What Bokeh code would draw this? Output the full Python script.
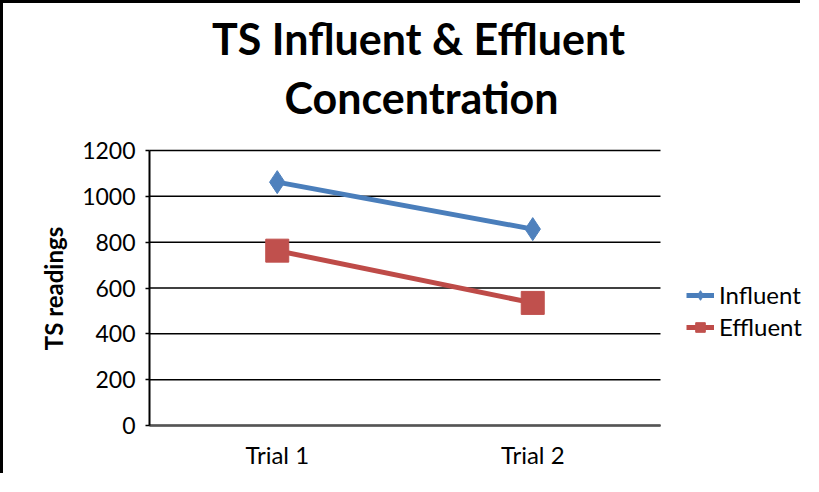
import math
from bokeh.plotting import figure
from bokeh.models import Range1d, FixedTicker, Label, Legend, LegendItem
from bokeh.embed import file_html
from bokeh.resources import INLINE

categories = ["Trial 1", "Trial 2"]
influent = [1062, 857]
effluent = [763, 535]
y_ticks = [0, 200, 400, 600, 800, 1000, 1200]
title_line1 = "TS Influent & Effluent"
title_line2 = "Concentration"
y_label = "TS readings"

FONT = "Lato"

# category slots: category i occupies [i, i+1], its centre at i + 0.5
n_cat = len(categories)
x_pos = [i + 0.5 for i in range(n_cat)]

# the frame covers the whole canvas (title, legend, axis labels: nothing clipped);
# axes and gridlines are pinned/bounded to the data area 0..n_cat, 0..1200
p = figure(width=800, height=473, output_backend="svg", toolbar_location=None,
           x_range=Range1d(-0.5714, 2.5597), y_range=Range1d(-222.5, 1841.5),
           min_border_left=0, min_border_right=0,
           min_border_top=0, min_border_bottom=0)
p.styles = {"border-left": "3px solid black", "border-top": "3px solid black"}
p.outline_line_color = None
p.background_fill_color = "white"
p.xgrid.visible = False
p.ygrid.visible = False

# y axis, pinned at the left edge of the category area
p.yaxis.fixed_location = 0
p.yaxis.bounds = (y_ticks[0], y_ticks[-1])
p.yaxis.ticker = FixedTicker(ticks=y_ticks)
p.yaxis.minor_tick_line_color = None
p.yaxis.major_tick_out = 4
p.yaxis.major_tick_in = 0
p.yaxis.major_tick_line_color = "black"
p.yaxis.major_tick_line_width = 1.5
p.yaxis.axis_line_color = "black"
p.yaxis.axis_line_width = 2
p.yaxis.major_label_standoff = 10
p.yaxis.major_label_text_font = FONT
p.yaxis.major_label_text_font_size = "23px"
p.yaxis.major_label_text_color = "#000000"

# x axis (category axis), pinned at y = 0
p.xaxis.fixed_location = 0
p.xaxis.bounds = (0, n_cat)
p.xaxis.ticker = FixedTicker(ticks=x_pos)
p.xaxis.major_label_overrides = {x: c for x, c in zip(x_pos, categories)}
p.xaxis.major_tick_line_color = None
p.xaxis.minor_tick_line_color = None
p.xaxis.major_tick_out = 0
p.xaxis.axis_line_color = "#555555"
p.xaxis.axis_line_width = 2.5
p.xaxis.major_label_standoff = 14
p.xaxis.major_label_text_font = FONT
p.xaxis.major_label_text_font_size = "24px"
p.xaxis.major_label_text_color = "#000000"

# horizontal gridlines across the category area only
p.segment(x0=[0] * len(y_ticks), x1=[n_cat] * len(y_ticks), y0=y_ticks, y1=y_ticks,
          line_color="black", line_width=1.5)

# series
l1 = p.line(x_pos, influent, line_color="#4A7EBB", line_width=5)
s1 = p.scatter(x_pos, influent, marker="diamond", size=23,
               fill_color="#4F81BD", line_color="#4F81BD")
l2 = p.line(x_pos, effluent, line_color="#BE4B48", line_width=5)
s2 = p.scatter(x_pos, effluent, marker="square", size=23,
               fill_color="#C0504D", line_color="#C0504D")

legend = Legend(items=[LegendItem(label="Influent", renderers=[l1, s1]),
                       LegendItem(label="Effluent", renderers=[l2, s2])],
                location=(683, 135), orientation="vertical")
legend.border_line_color = None
legend.background_fill_alpha = 0
legend.padding = 0
legend.margin = 0
legend.spacing = 3
legend.glyph_width = 28
legend.glyph_height = 24
legend.label_height = 24
legend.label_standoff = 5
legend.label_text_font = FONT
legend.label_text_font_size = "24px"
legend.label_text_color = "black"
p.add_layout(legend, "center")

# two-line title
for txt, xx, yy in [(title_line1, 415, 438), (title_line2, 418, 379)]:
    p.add_layout(Label(x=xx, y=yy, x_units="screen", y_units="screen",
                       text=txt, text_align="center", text_baseline="alphabetic",
                       text_font=FONT, text_font_style="bold",
                       text_font_size="43px", text_color="black"))

# y-axis title
p.add_layout(Label(x=50, y=188, x_units="screen", y_units="screen", angle=math.pi / 2,
                   text=y_label, text_align="center", text_baseline="middle",
                   text_font=FONT, text_font_style="bold",
                   text_font_size="24px", text_color="black"))

open("out.html", "w").write(file_html(p, INLINE))
